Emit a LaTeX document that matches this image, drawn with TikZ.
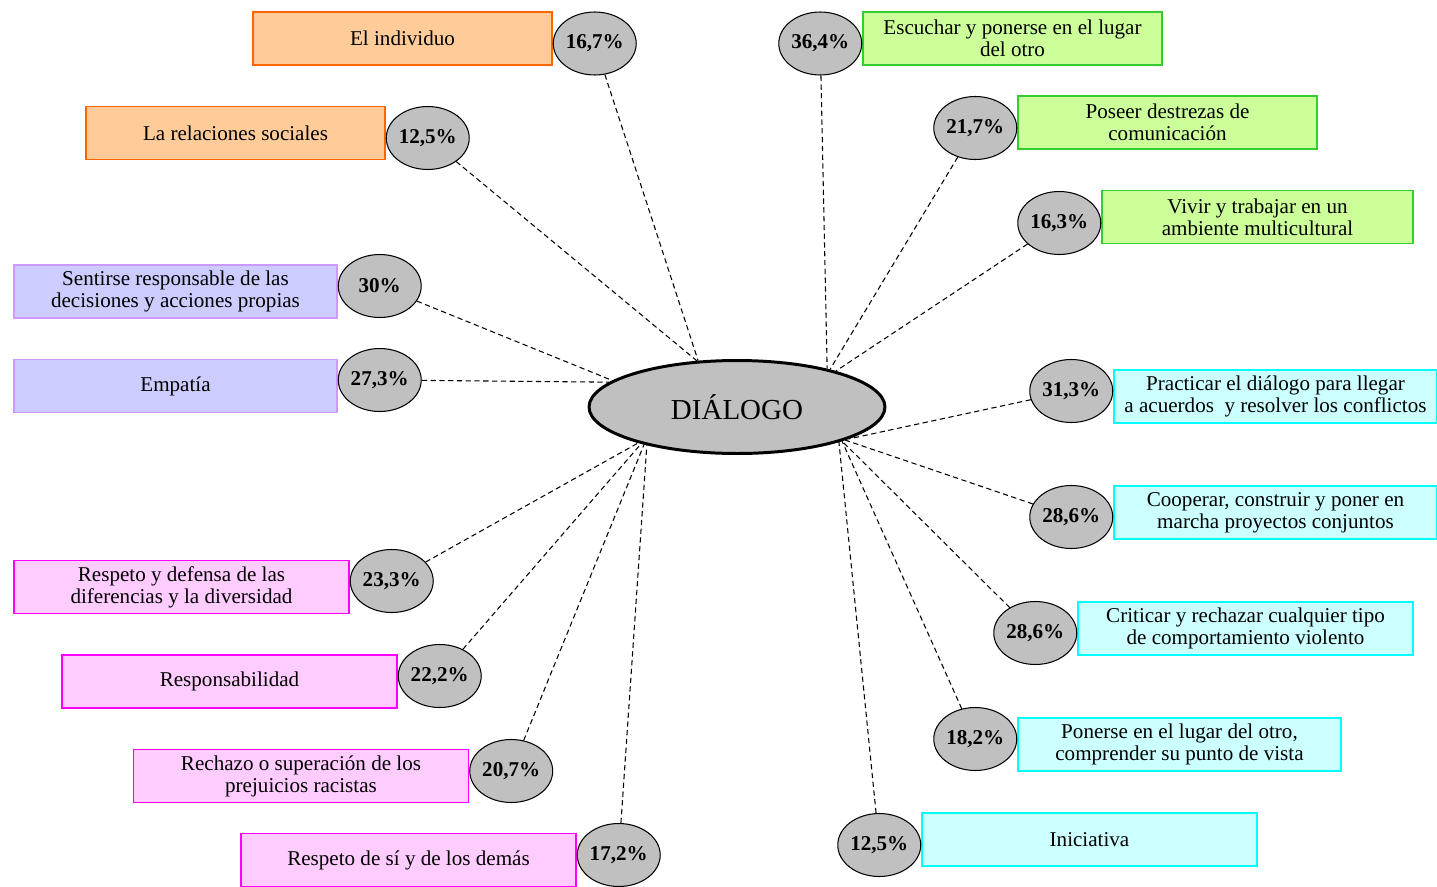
\documentclass[tikz,border=0pt]{standalone}
\usepackage{fontspec}
\setmainfont{Liberation Serif}
\usetikzlibrary{shapes.geometric,positioning}
\definecolor{orfill}{RGB}{255,204,153}
\definecolor{ordraw}{RGB}{255,102,0}
\definecolor{lilfill}{RGB}{204,204,255}
\definecolor{lildraw}{RGB}{204,153,255}
\definecolor{pkfill}{RGB}{255,204,255}
\definecolor{pkdraw}{RGB}{255,0,255}
\definecolor{grfill}{RGB}{204,255,153}
\definecolor{grdraw}{RGB}{51,204,51}
\definecolor{cyfill}{RGB}{204,255,255}
\definecolor{cydraw}{RGB}{0,255,255}
\definecolor{pctgray}{RGB}{192,192,192}

\begin{document}
\begin{tikzpicture}[
  x=0.02cm, y=-0.02cm,
  box/.style={
    rectangle, line width=0.85pt,
    minimum height=1.06cm, align=center, inner sep=2pt,
    font=\fontsize{12}{12.6}\selectfont
  },
  orbox/.style={box, draw=ordraw, fill=orfill, minimum width=5.98cm},
  lilbox/.style={box, draw=lildraw, fill=lilfill, minimum width=6.46cm},
  pkbox/.style={box, draw=pkdraw, fill=pkfill, minimum width=6.7cm},
  grbox/.style={box, draw=grdraw, fill=grfill, minimum width=5.98cm},
  cybox/.style={box, draw=cydraw, fill=cyfill, minimum width=6.46cm},
  pct/.style={
    ellipse, draw=black, fill=pctgray, line width=0.6pt,
    minimum width=1.66cm, minimum height=1.26cm, inner sep=0pt,
    font=\fontsize{12}{13}\selectfont\bfseries
  },
  hub/.style={
    ellipse, draw=black, fill=pctgray, line width=1.7pt,
    minimum width=5.92cm, minimum height=1.86cm, inner sep=0pt,
    font=\fontsize{16.5}{18}\selectfont
  },
  link/.style={dash pattern=on 3pt off 2pt, line width=0.6pt}
]
\useasboundingbox (0,0) rectangle (1437,886);

% centro
\node[hub] (hub) at (737,407) {DIÁLOGO};

% izquierda
\node[orbox] (indiv) at (402.5,38.5) {El individuo};
\node[pct, right=0pt of indiv, yshift=-0.1cm] (p167) {16,7\%};

\node[orbox] (relac) at (235.5,133) {La relaciones sociales};
\node[pct, right=0pt of relac, yshift=-0.1cm] (p125a) {12,5\%};

\node[lilbox] (sentir) at (175.5,291.5) {Sentirse responsable de las\\decisiones y acciones propias};
\node[pct, right=0pt of sentir, yshift=0.11cm] (p30) {30\%};

\node[lilbox] (empatia) at (175.5,386) {Empatía};
\node[pct, right=0pt of empatia, yshift=0.12cm] (p273) {27,3\%};

\node[pkbox] (respdef) at (181.5,587) {Respeto y defensa de las\\diferencias y la diversidad};
\node[pct, right=0pt of respdef, yshift=0.12cm] (p233) {23,3\%};

\node[pkbox] (respons) at (229.5,681.5) {Responsabilidad};
\node[pct, right=0pt of respons, yshift=0.11cm] (p222) {22,2\%};

\node[pkbox] (rechazo) at (301,776) {Rechazo o superación de los\\prejuicios racistas};
\node[pct, right=0pt of rechazo, yshift=0.1cm] (p207) {20,7\%};

\node[pkbox] (respsi) at (408.5,860) {Respeto de sí y de los demás};
\node[pct, right=0pt of respsi, yshift=0.1cm] (p172) {17,2\%};

% derecha
\node[grbox] (escuchar) at (1012.5,38.5) {Escuchar y ponerse en el lugar\\del otro};
\node[pct, left=0pt of escuchar, yshift=-0.1cm] (p364) {36,4\%};

\node[grbox] (poseer) at (1167.5,122.5) {Poseer destrezas de\\comunicación};
\node[pct, left=0pt of poseer, yshift=-0.11cm] (p217) {21,7\%};

\node[grbox, minimum width=6.22cm] (vivir) at (1257.5,217) {Vivir y trabajar en un\\ambiente multicultural};
\node[pct, left=0pt of vivir, yshift=-0.12cm] (p163) {16,3\%};

\node[cybox] (practicar) at (1275.5,396.5) {Practicar el diálogo para llegar\\a acuerdos\ \ y resolver los conflictos};
\node[pct, left=0pt of practicar, yshift=0.11cm] (p313) {31,3\%};

\node[cybox] (cooperar) at (1275.5,512.5) {Cooperar, construir y poner en\\marcha proyectos conjuntos};
\node[pct, left=0pt of cooperar, yshift=-0.09cm] (p286a) {28,6\%};

\node[cybox, minimum width=6.7cm] (criticar) at (1245.5,628.5) {Criticar y rechazar cualquier tipo\\de comportamiento violento};
\node[pct, left=0pt of criticar, yshift=-0.09cm] (p286b) {28,6\%};

\node[cybox] (ponerse) at (1179.5,744.5) {Ponerse en el lugar del otro,\\comprender su punto de vista};
\node[pct, left=0pt of ponerse, yshift=0.11cm] (p182) {18,2\%};

\node[cybox, minimum width=6.7cm] (iniciat) at (1089.5,839.5) {Iniciativa};
\node[pct, left=0pt of iniciat, yshift=-0.11cm] (p125b) {12,5\%};

% lineas al centro
\draw[link] (p167) -- (hub.130);
\draw[link] (p125a) -- (hub.131);
\draw[link] (p30) -- (hub.168);
\draw[link] (p273) -- (hub.169);
\draw[link] (p233) -- (hub.200);
\draw[link] (p222) -- (hub.201);
\draw[link] (p207) -- (hub.202);
\draw[link] (p172) -- (hub.203);
\draw[link] (p364) -- (hub.23);
\draw[link] (p217) -- (hub.22);
\draw[link] (p163) -- (hub.20);
\draw[link] (p313) -- (hub.344);
\draw[link] (p286a) -- (hub.343);
\draw[link] (p286b) -- (hub.342);
\draw[link] (p182) -- (hub.342);
\draw[link] (p125b) -- (hub.341);

\end{tikzpicture}
\end{document}
